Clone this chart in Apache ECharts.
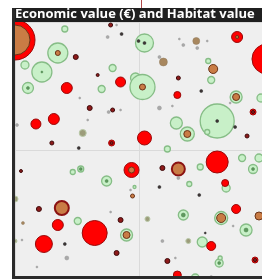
<!DOCTYPE html>
<html>
<head>
<meta charset="utf-8">
<script src="https://cdn.jsdelivr.net/npm/echarts@6/dist/echarts.min.js"></script>
<style>
html, body { margin: 0; padding: 0; background: #ffffff; }
#chart { width: 262px; height: 280px; }
</style>
</head>
<body>
<div id="chart"></div>
<script>
// [x, y, diameter]
var greenHabitat = [
  [50, 7, 6], [43, 31, 20], [10, 43, 8], [27, 50, 20], [13, 66, 11], [130, 21, 18],
  [98, 46, 7], [121, 56, 10], [128, 65, 25], [87, 67, 7], [162, 101, 12], [153, 127, 6],
  [194, 39, 5], [197, 58, 7], [222, 75, 12], [247, 76, 8], [203, 99, 34], [193, 110, 5],
  [173, 112, 14], [58, 150, 5], [66, 147, 6], [63, 199, 7], [92, 159, 10], [120, 165, 3],
  [112, 213, 12], [228, 136, 7], [245, 136, 8], [239, 147, 9], [186, 145, 6], [175, 162, 5],
  [212, 166, 8], [169, 193, 10], [207, 196, 13], [232, 208, 12], [188, 220, 10],
  [205, 241, 8], [206, 236, 4], [181, 256, 8]
]
var greenCentres = [
  [13, 66, 3], [27, 50, 2], [66, 147, 3], [92, 159, 3], [169, 193, 4], [232, 208, 4],
  [239, 147, 3], [205, 241, 3]
]
var redValue = [
  [0, 18, 40], [52, 66, 11], [21, 102, 10], [39, 97, 11], [106, 60, 10], [163, 73, 7],
  [130, 116, 14], [223, 15, 11], [253, 37, 30], [117, 148, 15], [80, 211, 25], [43, 203, 11],
  [29, 222, 17], [203, 140, 22], [222, 187, 9], [211, 161, 7], [197, 224, 9], [163, 253, 8],
  [239, 90, 6], [97, 121, 6], [241, 238, 6]
]
var brownValue = [
  [0, 18, 30], [128, 65, 6], [43, 31, 5], [222, 75, 7], [173, 112, 7], [199, 47, 9],
  [112, 213, 7], [207, 196, 9], [245, 194, 8], [118, 174, 4], [117, 148, 6], [223, 15, 3]
]
var brownRinged = [[47, 186, 14], [164, 147, 13]]
var darkRedDots = [
  [96, 3, 4], [61, 35, 5], [75, 86, 5], [37, 121, 4], [83, 53, 3], [164, 56, 4], [98, 88, 4],
  [24, 187, 5], [148, 146, 5], [106, 198, 5], [102, 231, 5], [153, 239, 5], [239, 90, 3],
  [97, 121, 3], [233, 114, 4], [6, 149, 3], [241, 238, 3]
]
var darkDots = [
  [64, 126, 3], [107, 12, 3], [187, 69, 3], [221, 105, 3], [50, 222, 3], [185, 173, 3],
  [191, 211, 2], [145, 165, 3], [124, 19, 3], [130, 21, 3], [203, 99, 3]
]
var greyDots = [
  [65, 76, 2], [73, 98, 2], [2, 103, 3], [93, 15, 3], [102, 3, 2], [145, 35, 3], [145, 86, 4],
  [158, 84, 2], [94, 90, 3], [106, 88, 2], [165, 17, 2], [169, 23, 3], [183, 26, 3],
  [193, 19, 2], [216, 81, 2], [148, 219, 3], [161, 236, 2], [52, 236, 4], [22, 245, 2],
  [7, 218, 2], [96, 190, 2], [116, 168, 2], [164, 156, 3], [219, 204, 2], [197, 255, 3]
]
var oliveDots = [[68, 111, 7], [133, 197, 5], [174, 219, 5], [0, 177, 6], [0, 219, 4]]
var tanDots = [[149, 40, 8], [182, 19, 7], [8, 201, 3]]

function bubbles (name, data, fill, border, bw) {
  return {
    name: name,
    type: 'scatter',
    clip: false,
    data: data,
    symbolSize: function (v) { return v[2] },
    itemStyle: { color: fill, borderColor: border, borderWidth: bw, opacity: 1 },
    emphasis: { disabled: true }
  }
}

var chart = echarts.init(document.getElementById('chart'))
chart.setOption({
  animation: false,
  backgroundColor: '#ffffff',
  title: {
    text: 'Economic value (€) and Habitat value',
    left: 15,
    top: 8,
    padding: 0,
    z: 30,
    textStyle: { color: '#ffffff', fontSize: 13, fontWeight: 'bold', fontFamily: 'Open Sans' }
  },
  grid: {
    left: 15, top: 22, width: 248, height: 255,
    show: true, backgroundColor: '#efefef', borderWidth: 0
  },
  xAxis: {
    type: 'value', min: 0, max: 248, interval: 125,
    axisLine: { show: false }, axisTick: { show: false }, axisLabel: { show: false },
    splitLine: { lineStyle: { color: '#dadada', width: 1 } }
  },
  yAxis: {
    type: 'value', inverse: true, min: 0, max: 255, interval: 128,
    axisLine: { show: false }, axisTick: { show: false }, axisLabel: { show: false },
    splitLine: { lineStyle: { color: '#dadada', width: 1 } }
  },
  series: [
    bubbles('habitat', greenHabitat, '#c8f0c8', '#86bd86', 1.3),
    bubbles('habitat centre', greenCentres, '#5e9a5e', '#4a804a', 0.5),
    bubbles('value', redValue, '#ff0000', '#9a0a0a', 1),
    bubbles('value brown', brownValue, '#c97c45', '#6b3418', 1),
    bubbles('value ringed', brownRinged, '#c97c45', '#8b1212', 2),
    bubbles('small value', darkRedDots, '#8e1a1a', '#3f0c0c', 1),
    bubbles('dark', darkDots, '#3d3535', '#2a2a2a', 0.5),
    bubbles('grey', greyDots, '#a9a9a9', '#999999', 0.5),
    bubbles('olive', oliveDots, '#9c9c7a', '#b9c9a8', 1),
    bubbles('tan', tanDots, '#a8875e', '#8e7a5e', 0.5)
  ],
  graphic: [
    { type: 'rect', z: 20, shape: { x: 0, y: 0, width: 12, height: 280 }, style: { fill: '#ffffff' } },
    { type: 'rect', z: 20, shape: { x: 0, y: 0, width: 262, height: 8 }, style: { fill: '#ffffff' } },
    { type: 'rect', z: 20, shape: { x: 0, y: 279, width: 262, height: 1 }, style: { fill: '#ffffff' } },
    { type: 'rect', z: 21, shape: { x: 12, y: 8, width: 250, height: 14 }, style: { fill: '#1f1f1f' } },
    { type: 'rect', z: 21, shape: { x: 12, y: 8, width: 3, height: 271 }, style: { fill: '#2a2a2a' } },
    { type: 'rect', z: 21, shape: { x: 12, y: 276, width: 250, height: 3 }, style: { fill: '#2a2a2a' } },
    { type: 'line', z: 21, shape: { x1: 141.5, y1: 0, x2: 141.5, y2: 8 }, style: { stroke: '#b04848', lineWidth: 1 } }
  ]
})
</script>
</body>
</html>
